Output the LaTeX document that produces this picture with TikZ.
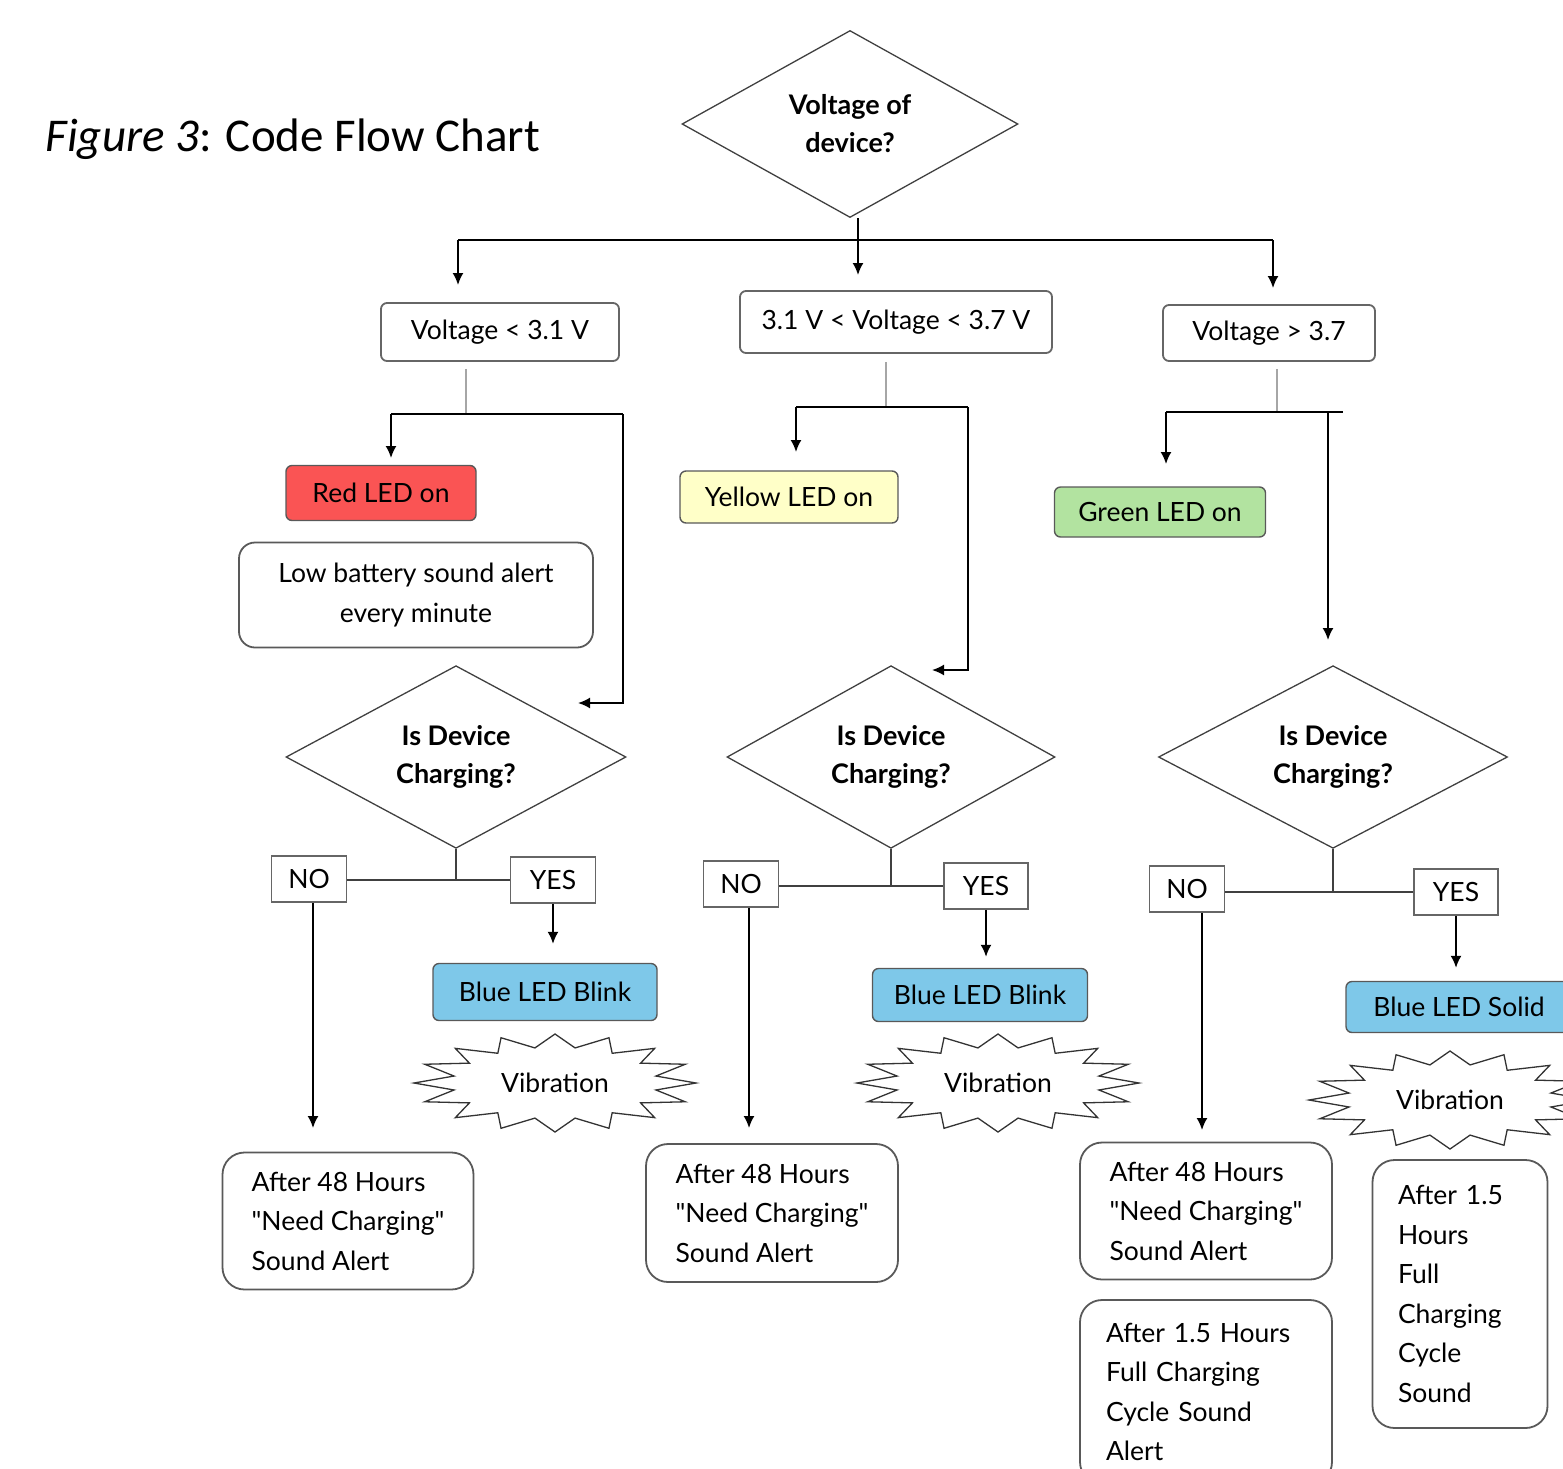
\documentclass[tikz,border=0pt]{standalone}
\usepackage{fontspec}
\setmainfont{Lato}[Ligatures=TeXOff]
\newfontfamily\capfont{Carlito}
\usetikzlibrary{arrows.meta, calc, positioning, shapes.geometric}

\definecolor{ledred}{RGB}{250,84,84}
\definecolor{ledyellow}{RGB}{255,255,200}
\definecolor{ledgreen}{RGB}{178,227,160}
\definecolor{ledblue}{RGB}{126,200,233}
\newcommand{\chartfont}{\fontsize{26.5}{39.5}\selectfont}

\begin{document}
\begin{tikzpicture}[
    x=1pt, y=-1pt,
    >={Latex[length=12pt,width=11pt]},
    font=\chartfont,
    cond/.style={
        draw=black!75,
        diamond,
        align=center,
        inner sep=0pt,
        line width=1.3pt,
        font=\fontsize{27}{38}\selectfont\bfseries
    },
    vbox/.style={draw=black!60, rounded corners=6pt, line width=1.8pt},
    led/.style={draw=black!65, rounded corners=6pt, line width=1.4pt},
    tag/.style={draw=black!60, line width=1.8pt, minimum width=75pt, minimum height=46pt},
    burst/.style={inner sep=0pt, minimum width=282pt, minimum height=98pt},
    spikes/.style={draw=black!80, line width=1.3pt, line join=miter},
    note/.style={draw=black!65, rounded corners=22pt, line width=1.8pt, align=left},
    wire/.style={line width=1.8pt},
    link/.style={->, line width=1.8pt},
    stub/.style={draw=black!35, line width=1.3pt}
]
\clip (0,0) rectangle (1563,1468);

\node[anchor=west, font=\capfont\fontsize{47}{52}\selectfont] (title) at (42,139)
    {\textit{Figure 3}: Code Flow Chart};

% voltage check
\node[cond, minimum width=336pt, minimum height=187pt] (volt) at (850,124) {Voltage of\\device?};

\node[vbox, minimum width=238pt, minimum height=58pt] (lowv) at (500,332) {Voltage < 3.1 V};
\node[vbox, minimum width=312pt, minimum height=62pt] (midv) at (896,322) {3.1 V < Voltage < 3.7 V};
\node[vbox, minimum width=212pt, minimum height=56pt] (highv) at (1269,333) {Voltage > 3.7};

\coordinate (bus0) at (858,240);
\coordinate (tipA) at (458,285);
\coordinate (tipB) at (858,275);
\coordinate (tipC) at (1273,288);
\draw[wire] (volt.south -| bus0) -- (bus0);
\draw[wire] (tipA |- bus0) -- (tipC |- bus0);
\draw[link] (tipA |- bus0) -- (tipA);
\draw[link] (bus0) -- (tipB);
\draw[link] (tipC |- bus0) -- (tipC);

% LED nodes
\node[led, fill=ledred, minimum width=190pt, minimum height=55pt] (red) at (381,493) {Red LED on};
\node[note, align=center, rounded corners=16pt, minimum width=354pt, minimum height=105pt] (beep) at (416,595)
    {Low battery sound alert\\every minute};
\node[led, fill=ledyellow, minimum width=218pt, minimum height=52pt] (yellow) at (789,497) {Yellow LED on};
\node[led, fill=ledgreen, minimum width=211pt, minimum height=50pt] (green) at (1160,512) {Green LED on};

\node[cond, minimum width=340pt, minimum height=177pt] (chgA) at (456,757) {Is Device\\Charging?};
\node[cond, minimum width=328pt, minimum height=177pt] (chgB) at (891,757) {Is Device\\Charging?};
\node[cond, minimum width=349pt, minimum height=177pt] (chgC) at (1333,757) {Is Device\\Charging?};

% split below each voltage box
\coordinate (busA) at (466,414);
\coordinate (ledA) at (391,458);
\coordinate (turnA) at (623,703);
\coordinate (endA) at (578,703);
\draw[stub] ($(busA |- lowv.south)+(0,7)$) -- (busA);
\draw[wire] (ledA |- busA) -- (turnA |- busA);
\draw[link] (ledA |- busA) -- (ledA);
\draw[link] (turnA |- busA) -- (turnA) -- (endA);

\coordinate (busB) at (886,407);
\coordinate (ledB) at (796,452);
\coordinate (turnB) at (968,670);
\coordinate (endB) at (932,670);
\draw[stub] ($(busB |- midv.south)+(0,8)$) -- (busB);
\draw[wire] (ledB |- busB) -- (turnB |- busB);
\draw[link] (ledB |- busB) -- (ledB);
\draw[link] (turnB |- busB) -- (turnB) -- (endB);

\coordinate (busC) at (1277,412);
\coordinate (ledC) at (1166,464);
\coordinate (turnC) at (1328,640);
\coordinate (edgeC) at (1343,412);
\draw[stub] ($(busC |- highv.south)+(0,7)$) -- (busC);
\draw[wire] (ledC |- busC) -- (edgeC);
\draw[link] (ledC |- busC) -- (ledC);
\draw[link] (turnC |- busC) -- (turnC);

% answers
\node[tag] (noA) at (309,879) {NO};
\node[tag, minimum width=85pt] (yesA) at (553,880) {YES};
\node[tag] (noB) at (741,884) {NO};
\node[tag, minimum width=84pt] (yesB) at (986,886) {YES};
\node[tag] (noC) at (1187,889) {NO};
\node[tag, minimum width=84pt] (yesC) at (1456,892) {YES};

\foreach \c in {A,B,C}{
    \draw[line width=1.3pt, black!75] (chg\c.south) -- (chg\c.south |- yes\c.west);
    \draw[line width=1.5pt, black!75] (no\c.east |- yes\c.west) -- (yes\c.west);
}

\node[led, fill=ledblue, minimum width=224pt, minimum height=57pt] (blinkA) at (545,992) {Blue LED Blink};
\node[led, fill=ledblue, minimum width=215pt, minimum height=53pt] (blinkB) at (980,995) {Blue LED Blink};
\node[led, fill=ledblue, minimum width=226pt, minimum height=51pt] (solidC) at (1459,1007) {Blue LED Solid};

\node[burst] (vibA) at (555,1083) {Vibration};
\node[burst] (vibB) at (998,1083) {Vibration};
\node[burst] (vibC) at (1450,1100) {Vibration};

% explosion outline round each vibration
\foreach \v in {vibA,vibB,vibC}{
    \draw[spikes] ($(\v)+(141,0)$)
        \foreach \k in {1,...,31}{
            -- ($(\v)+({141*(1-0.27*mod(\k,2))*cos(\k*11.25)},{49*(1-0.27*mod(\k,2))*sin(\k*11.25)})$)
        } -- cycle;
}

\node[note, minimum width=251pt, minimum height=137pt] (waitA) at (348,1221)
    {After 48 Hours\\"Need Charging"\\Sound Alert};
\node[note, minimum width=252pt, minimum height=138pt] (waitB) at (772,1213)
    {After 48 Hours\\"Need Charging"\\Sound Alert};
\node[note, minimum width=252pt, minimum height=137pt] (waitC) at (1206,1211)
    {After 48 Hours\\"Need Charging"\\Sound Alert};
\node[note, text width=200pt, minimum width=252pt, minimum height=184pt] (fullC) at (1206,1392)
    {After 1.5 Hours\\Full Charging\\Cycle Sound\\Alert};
\node[note, text width=124pt, minimum width=175pt, minimum height=268pt] (fullY) at (1460,1294)
    {After 1.5\\Hours\\Full\\Charging\\Cycle\\Sound};

\coordinate (dropA) at (313,1128);
\coordinate (dropB) at (749,1128);
\coordinate (dropC) at (1202,1130);
\draw[link, shorten >=19pt] (yesA.south) -- (yesA.south |- blinkA.north);
\draw[link, shorten >=11pt] (yesB.south) -- (yesB.south |- blinkB.north);
\draw[link, shorten >=13pt] (yesC.south) -- (yesC.south |- solidC.north);
\draw[link] (noA.south -| dropA) -- (dropA);
\draw[link] (noB.south -| dropB) -- (dropB);
\draw[link] (noC.south -| dropC) -- (dropC);
\end{tikzpicture}
\end{document}
